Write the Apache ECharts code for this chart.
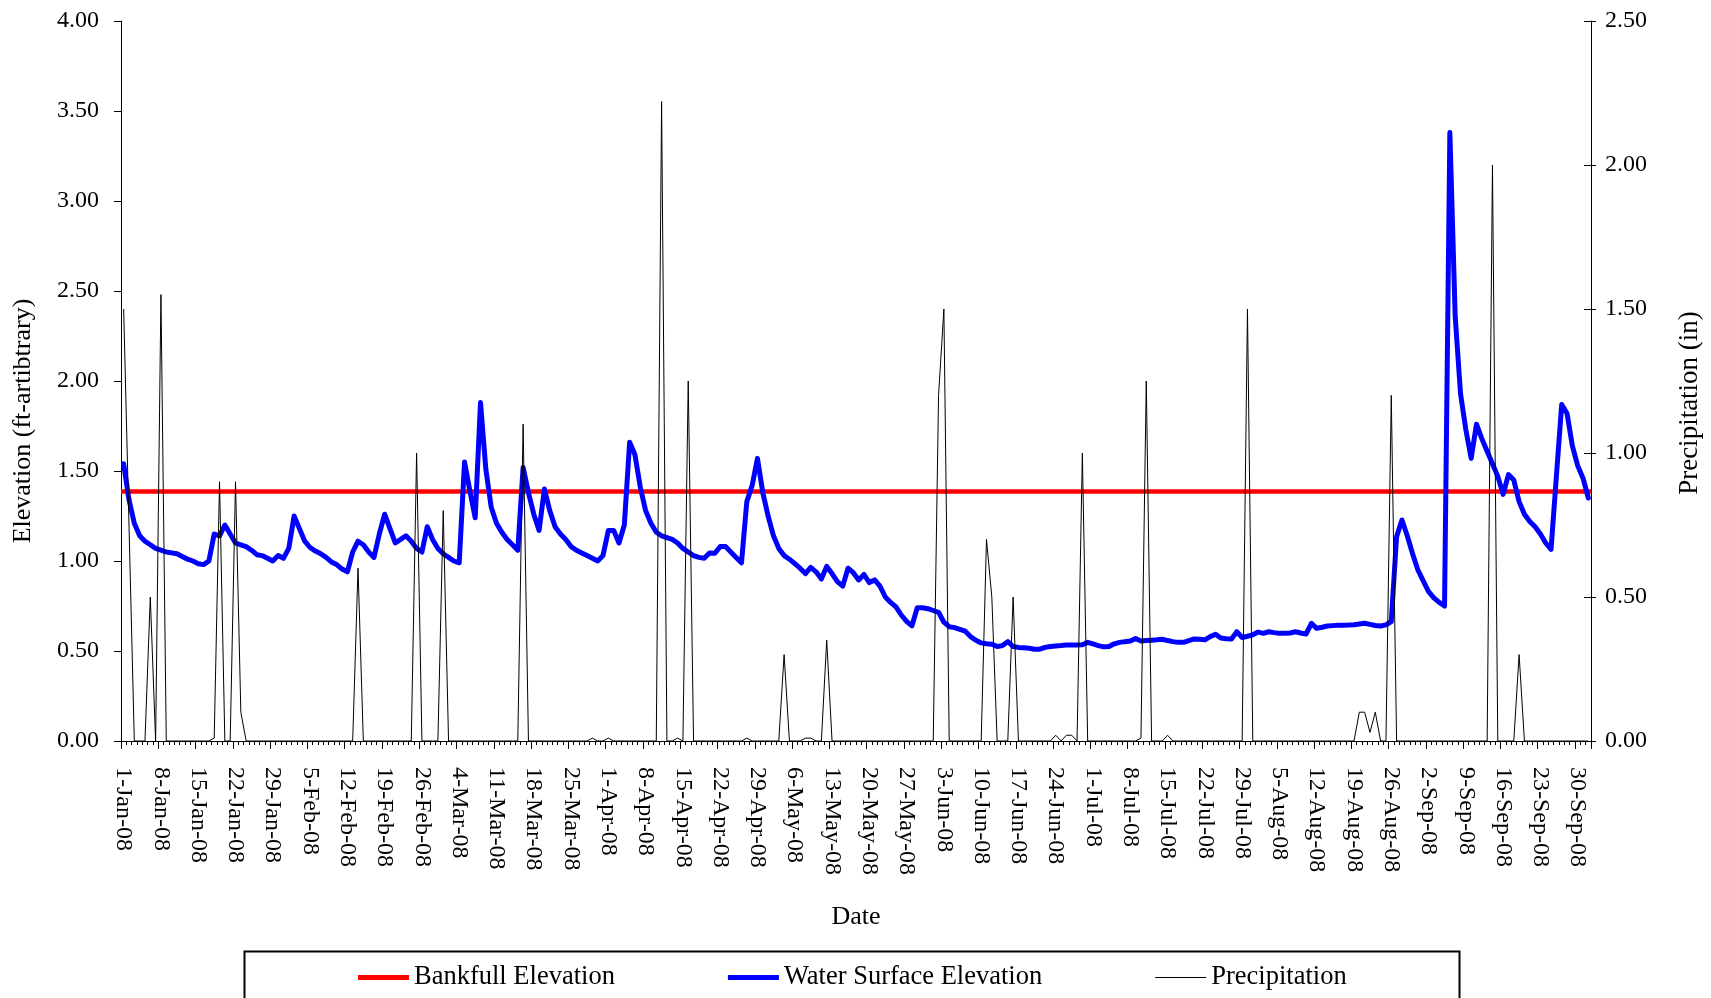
<!DOCTYPE html>
<html>
<head>
<meta charset="utf-8">
<script src="https://cdn.jsdelivr.net/npm/echarts@6/dist/echarts.min.js"></script>
<style>
html,body{margin:0;padding:0;background:#ffffff;}
#chart{width:1711px;height:998px;}
</style>
</head>
<body>
<div id="chart"></div>
<script>
// ---- Data ----
const startDateUTC = Date.UTC(2008, 0, 1);   // first category: 1-Jan-08
const dayCount = 276;                          // 1-Jan-08 .. 2-Oct-08
const monthNames = ['Jan','Feb','Mar','Apr','May','Jun','Jul','Aug','Sep','Oct','Nov','Dec'];
const dates = [];
for (let i = 0; i < dayCount; i++) {
  const d = new Date(startDateUTC + i * 86400000);
  dates.push(d.getUTCDate() + '-' + monthNames[d.getUTCMonth()] + '-' + String(d.getUTCFullYear()).slice(2));
}

const bankfullElevation = 1.39;

const waterSurface = [
  1.54, 1.34, 1.21, 1.14, 1.11, 1.09, 1.07, 1.06, 1.05, 1.045,
  1.04, 1.025, 1.01, 1.0, 0.985, 0.98, 1.0, 1.15, 1.14, 1.20,
  1.15, 1.10, 1.09, 1.08, 1.06, 1.035, 1.03, 1.015, 1.0, 1.03,
  1.015, 1.07, 1.25, 1.18, 1.11, 1.075, 1.055, 1.04, 1.02, 0.995,
  0.98, 0.955, 0.94, 1.05, 1.11, 1.09, 1.05, 1.02, 1.15, 1.26,
  1.18, 1.10, 1.12, 1.14, 1.11, 1.07, 1.05, 1.19, 1.12, 1.07,
  1.04, 1.02, 1.0, 0.99, 1.55, 1.39, 1.24, 1.88, 1.51, 1.30,
  1.21, 1.16, 1.12, 1.09, 1.06, 1.52, 1.38, 1.26, 1.17, 1.40,
  1.28, 1.19, 1.15, 1.12, 1.08, 1.06, 1.045, 1.03, 1.015, 1.0,
  1.03, 1.17, 1.17, 1.10, 1.20, 1.66, 1.59, 1.41, 1.28, 1.21,
  1.16, 1.14, 1.13, 1.12, 1.10, 1.07, 1.05, 1.03, 1.02, 1.015,
  1.045, 1.043, 1.08, 1.08, 1.05, 1.02, 0.99, 1.33, 1.42, 1.57,
  1.38, 1.25, 1.14, 1.07, 1.03, 1.01, 0.985, 0.96, 0.93, 0.965,
  0.94, 0.90, 0.97, 0.93, 0.885, 0.86, 0.96, 0.935, 0.895, 0.925,
  0.88, 0.895, 0.86, 0.80, 0.77, 0.745, 0.70, 0.665, 0.64, 0.74,
  0.74, 0.735, 0.725, 0.715, 0.66, 0.635, 0.63, 0.62, 0.61, 0.58,
  0.56, 0.545, 0.54, 0.538, 0.525, 0.53, 0.552, 0.525, 0.52, 0.518,
  0.515, 0.51, 0.51, 0.52, 0.525, 0.528, 0.53, 0.533, 0.533, 0.533,
  0.535, 0.548, 0.54, 0.53, 0.523, 0.525, 0.54, 0.548, 0.552, 0.555,
  0.57, 0.556, 0.558, 0.56, 0.562, 0.565, 0.558, 0.552, 0.548, 0.548,
  0.558, 0.567, 0.565, 0.562, 0.58, 0.593, 0.572, 0.568, 0.567, 0.607,
  0.575, 0.582, 0.59, 0.605, 0.598, 0.607, 0.602, 0.598, 0.598, 0.60,
  0.607, 0.60, 0.594, 0.654, 0.626, 0.632, 0.639, 0.641, 0.643, 0.643,
  0.644, 0.646, 0.65, 0.654, 0.648, 0.642, 0.639, 0.645, 0.663, 1.135,
  1.228, 1.14, 1.04, 0.95, 0.89, 0.83, 0.795, 0.77, 0.75, 3.38,
  2.36, 1.93, 1.73, 1.57, 1.76, 1.68, 1.61, 1.54, 1.47, 1.37,
  1.48, 1.45, 1.33, 1.26, 1.22, 1.19, 1.15, 1.10, 1.065, 1.47,
  1.87, 1.82, 1.64, 1.53, 1.46, 1.35
];

const precipitation = [
  1.5, 0.75, 0, 0, 0, 0.5, 0, 1.55, 0, 0,
  0, 0, 0, 0, 0, 0, 0, 0.01, 0.9, 0,
  0, 0.9, 0.1, 0, 0, 0, 0, 0, 0, 0,
  0, 0, 0, 0, 0, 0, 0, 0, 0, 0,
  0, 0, 0, 0, 0.6, 0, 0, 0, 0, 0,
  0, 0, 0, 0, 0, 1.0, 0, 0, 0, 0,
  0.8, 0, 0, 0, 0, 0, 0, 0, 0, 0,
  0, 0, 0, 0, 0, 1.1, 0, 0, 0, 0,
  0, 0, 0, 0, 0, 0, 0, 0, 0.01, 0,
  0, 0.01, 0, 0, 0, 0, 0, 0, 0, 0,
  0, 2.22, 0, 0, 0.01, 0, 1.25, 0, 0, 0,
  0, 0, 0, 0, 0, 0, 0, 0.01, 0, 0,
  0, 0, 0, 0, 0.3, 0, 0, 0, 0.01, 0.01,
  0, 0, 0.35, 0, 0, 0, 0, 0, 0, 0,
  0, 0, 0, 0, 0, 0, 0, 0, 0, 0,
  0, 0, 0, 1.2, 1.5, 0, 0, 0, 0, 0,
  0, 0, 0.7, 0.5, 0, 0, 0, 0.5, 0, 0,
  0, 0, 0, 0, 0, 0.02, 0, 0.02, 0.02, 0,
  1.0, 0, 0, 0, 0, 0, 0, 0, 0, 0,
  0, 0.01, 1.25, 0, 0, 0, 0.02, 0, 0, 0,
  0, 0, 0, 0, 0, 0, 0, 0, 0, 0,
  0, 1.5, 0, 0, 0, 0, 0, 0, 0, 0,
  0, 0, 0, 0, 0, 0, 0, 0, 0, 0,
  0, 0, 0.1, 0.1, 0.03, 0.1, 0, 0, 1.2, 0,
  0, 0, 0, 0, 0, 0, 0, 0, 0, 0,
  0, 0, 0, 0, 0, 0, 0, 2.0, 0, 0,
  0, 0, 0.3, 0, 0, 0, 0, 0, 0, 0,
  0, 0, 0, 0, 0, 0
];

// ---- Chart ----
const FONT = "'Liberation Serif', 'Times New Roman', serif";
const chart = echarts.init(document.getElementById('chart'), null, {renderer: 'canvas'});

const option = {
  animation: false,
  backgroundColor: '#ffffff',
  grid: {left: 121, top: 21, width: 1477, height: 720, containLabel: false},
  xAxis: [
    {
      type: 'category', data: dates, boundaryGap: true, position: 'bottom',
      axisLine: {show: true, lineStyle: {color: '#000', width: 1}},
      axisTick: {show: true, interval: 0, length: 4, lineStyle: {color: '#000', width: 1}},
      axisLabel: {interval: 6, rotate: -90, margin: 26, color: '#000', fontFamily: FONT, fontSize: 24},
      splitLine: {show: false},
      name: 'Date', nameLocation: 'middle', nameGap: 163,
      nameTextStyle: {color: '#000', fontFamily: FONT, fontSize: 26}
    },
    {
      type: 'category', data: dates, boundaryGap: true, position: 'bottom',
      axisLine: {show: false},
      axisTick: {show: true, interval: 6, length: 8, lineStyle: {color: '#000', width: 1}},
      axisLabel: {show: false}, splitLine: {show: false}
    }
  ],
  yAxis: [
    {
      type: 'value', min: 0, max: 4, interval: 0.5, position: 'left',
      axisLine: {show: true, lineStyle: {color: '#000', width: 1}},
      axisTick: {show: true, length: 7, lineStyle: {color: '#000'}},
      splitLine: {show: false},
      axisLabel: {formatter: v => v.toFixed(2), margin: 22, color: '#000', fontFamily: FONT, fontSize: 24},
      name: 'Elevation (ft-artibtrary)', nameLocation: 'middle', nameRotate: 90, nameGap: 85,
      nameTextStyle: {color: '#000', fontFamily: FONT, fontSize: 26, padding: [0, 80, 0, 0]}
    },
    {
      type: 'value', min: 0, max: 2.5, interval: 0.5, position: 'right',
      axisLine: {show: true, lineStyle: {color: '#000', width: 1}},
      axisTick: {show: true, length: 5, lineStyle: {color: '#000'}},
      splitLine: {show: false},
      axisLabel: {formatter: v => v.toFixed(2), margin: 14, color: '#000', fontFamily: FONT, fontSize: 24},
      name: 'Precipitation (in)', nameLocation: 'middle', nameRotate: 90, nameGap: 85,
      nameTextStyle: {color: '#000', fontFamily: FONT, fontSize: 27, padding: [0, 44, 0, 0]}
    },
    {
      type: 'value', min: 0, max: 2.5, interval: 0.5, position: 'right',
      axisLine: {show: false},
      axisTick: {show: true, inside: true, length: 7, lineStyle: {color: '#000'}},
      axisLabel: {show: false}, splitLine: {show: false}
    }
  ],
  legend: {
    left: 358, top: 964, padding: 0, itemGap: 113, itemWidth: 51, itemHeight: 14,
    selectedMode: false,
    textStyle: {color: '#000', fontFamily: FONT, fontSize: 26.5},
    data: [
      {name: 'Bankfull Elevation', icon: 'path://M0,0H50V5H0Z', itemStyle: {color: '#FF0000'}},
      {name: 'Water Surface Elevation', icon: 'path://M0,0H50V5H0Z', itemStyle: {color: '#0000FF'}},
      {name: 'Precipitation', icon: 'path://M0,0H50V1H0Z', itemStyle: {color: '#000000'}}
    ]
  },
  graphic: [
    {type: 'rect', left: 242, top: 949, z: 0, silent: true,
     shape: {width: 1215, height: 70},
     style: {fill: 'none', stroke: '#000', lineWidth: 2}}
  ],
  series: [
    {
      name: 'Bankfull Elevation', type: 'line', xAxisIndex: 0, yAxisIndex: 0,
      data: [], symbol: 'none', z: 1,
      itemStyle: {color: '#FF0000'}, lineStyle: {color: '#FF0000', width: 4.5},
      markLine: {
        silent: true, symbol: ['none', 'none'], z: 1, animation: false,
        label: {show: false},
        lineStyle: {color: '#FF0000', width: 4.5, type: 'solid'},
        emphasis: {disabled: true},
        data: [{yAxis: bankfullElevation}]
      }
    },
    {
      name: 'Water Surface Elevation', type: 'line', xAxisIndex: 0, yAxisIndex: 0,
      data: waterSurface, symbol: 'none', showSymbol: false, z: 3,
      itemStyle: {color: '#0000FF'},
      lineStyle: {color: '#0000FF', width: 5, join: 'round', cap: 'round'}
    },
    {
      name: 'Precipitation', type: 'line', xAxisIndex: 0, yAxisIndex: 1,
      data: precipitation, symbol: 'none', showSymbol: false, z: 4,
      itemStyle: {color: '#000000'},
      lineStyle: {color: '#000000', width: 1}
    }
  ]
};
chart.setOption(option);
</script>
</body>
</html>
